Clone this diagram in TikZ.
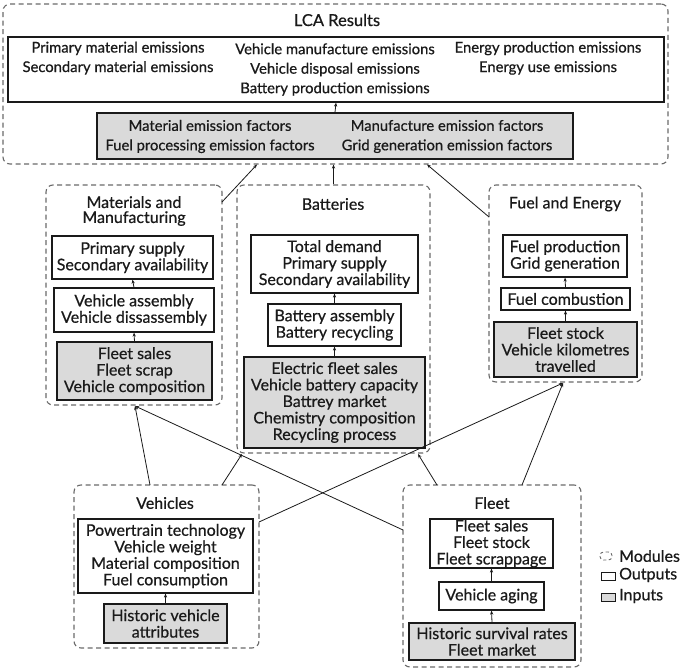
\documentclass[tikz,border=0pt]{standalone}
\usepackage{fontspec}
\setmainfont{Lato}[RawFeature={embolden=0.6}]
\usetikzlibrary{arrows.meta,calc}
\definecolor{inputgray}{HTML}{DADADA}
\definecolor{modgray}{HTML}{6A6A6A}
\definecolor{ink}{HTML}{1A1A1A}
\begin{document}
\begin{tikzpicture}[x=1pt,y=-1pt,
  every node/.style={text=ink},
  module/.style={draw=modgray,line width=1.1pt,dash pattern=on 5pt off 3.5pt,rounded corners=7pt,inner sep=0pt},
  outbox/.style={draw=ink,line width=1.2pt,fill=white,inner sep=0pt,align=center,font=\fontsize{16}{16.5}\selectfont},
  inbox/.style={outbox,fill=inputgray},
  lcatxt/.style={inner sep=0pt,align=center,font=\fontsize{14.8}{19.5}\selectfont},
  ttl/.style={inner sep=0pt,align=center,font=\fontsize{16}{15}\selectfont},
  link/.style={draw=ink,line width=0.8pt,-{Stealth[length=4pt,width=3.2pt]}},
  leg/.style={inner sep=0pt,anchor=west,font=\fontsize{16}{16}\selectfont}
]
\useasboundingbox (0,0) rectangle (685,671);

% ---------------- LCA Results ----------------
\node[module,minimum width=665pt,minimum height=160pt] (lca) at (335.5,84) {};
\node[ttl,font=\fontsize{16.5}{17}\selectfont] (lcat) at (337,20) {LCA Results};
\node[outbox,minimum width=656pt,minimum height=65pt] (lcaout) at (336,69.5) {};
\node[lcatxt] (lo1) at (118,69.5) {Primary material emissions\\Secondary material emissions\\\strut};
\node[lcatxt] (lo2) at (335,69.5) {Vehicle manufacture emissions\\Vehicle disposal emissions\\Battery production emissions};
\node[lcatxt] (lo3) at (548,69.5) {Energy production emissions\\Energy use emissions\\\strut};
\node[inbox,minimum width=476pt,minimum height=46pt] (lcain) at (335,136) {};
\node[lcatxt] (li1) at (210,136.5) {Material emission factors\\Fuel processing emission factors};
\node[lcatxt] (li2) at (447,136.5) {Manufacture emission factors\\Grid generation emission factors};
\draw[link] (lcain.north) -- (lcaout.south);

% ---------------- Materials and Manufacturing ----------------
\node[module,minimum width=176pt,minimum height=220pt] (mat) at (134,295) {};
\node[ttl] (matt) at (134,211) {Materials and\\Manufacturing};
\node[outbox,minimum width=161pt,minimum height=43pt] (mat1) at (132.5,257.5) {Primary supply\\Secondary availability};
\node[outbox,minimum width=160pt,minimum height=44pt] (mat2) at (134,310) {Vehicle assembly\\Vehicle dissassembly};
\node[inbox,minimum width=155pt,minimum height=58pt] (mat3) at (134.5,371) {Fleet sales\\Fleet scrap\\Vehicle composition};
\draw[link] (mat2.north) -- (mat1.south);
\draw[link] (mat3.north) -- (mat2.south);

% ---------------- Batteries ----------------
\node[module,minimum width=193pt,minimum height=268pt] (bat) at (333.5,319) {};
\node[ttl] (batt) at (333,204) {Batteries};
\node[outbox,minimum width=167pt,minimum height=58pt] (bat1) at (334.5,264) {Total demand\\Primary supply\\Secondary availability};
\node[outbox,minimum width=133pt,minimum height=42pt] (bat2) at (334.5,325) {Battery assembly\\Battery recycling};
\node[inbox,minimum width=181pt,minimum height=91pt] (bat3) at (334.5,402.5) {Electric fleet sales\\Vehicle battery capacity\\Battrey market\\Chemistry composition\\Recycling process};
\draw[link] (bat2.north) -- (bat1.south);
\draw[link] (bat3.north) -- (bat2.south);

% ---------------- Fuel and Energy ----------------
\node[module,minimum width=153pt,minimum height=197pt] (fue) at (565.5,283.5) {};
\node[ttl] (fuet) at (565,204) {Fuel and Energy};
\node[outbox,minimum width=124pt,minimum height=42pt] (fue1) at (565,256) {Fuel production\\Grid generation};
\node[outbox,minimum width=129pt,minimum height=22pt] (fue2) at (565.5,299) {Fuel combustion};
\node[inbox,minimum width=143pt,minimum height=55pt] (fue3) at (565.5,349.5) {Fleet stock\\Vehicle kilometres\\travelled};
\draw[link] (fue2.north) -- (fue1.south);
\draw[link] (fue3.north) -- (fue2.south);

% ---------------- Vehicles ----------------
\node[module,minimum width=185pt,minimum height=163pt] (veh) at (166.5,566.5) {};
\node[ttl] (veht) at (165,503) {Vehicles};
\node[outbox,minimum width=175pt,minimum height=74pt] (veh1) at (165.5,556) {Powertrain technology\\Vehicle weight\\Material composition\\Fuel consumption};
\node[inbox,minimum width=123pt,minimum height=39pt] (veh2) at (165.5,623.5) {Historic vehicle\\attributes};
\draw[link] (veh2.north) -- (veh1.south);

% ---------------- Fleet ----------------
\node[module,minimum width=178pt,minimum height=182pt] (fle) at (492,576) {};
\node[ttl] (flet) at (492,503) {Fleet};
\node[outbox,minimum width=123pt,minimum height=49pt] (fle1) at (491.5,543.5) {Fleet sales\\Fleet stock\\Fleet scrappage};
\node[outbox,minimum width=105pt,minimum height=28pt] (fle2) at (491.5,596) {Vehicle aging};
\node[inbox,minimum width=166pt,minimum height=37pt] (fle3) at (492,641.5) {Historic survival rates\\Fleet market};
\draw[link] (fle2.north) -- (fle1.south);
\draw[link] (fle3.north) -- (fle2.south);

% ---------------- connector end points ----------------
\coordinate (matOut) at (222,202);
\coordinate (lcaInA) at (257,164.5);
\coordinate (lcaInC) at (427,164.5);
\coordinate (fueOut) at (489,217);
\coordinate (matIn) at (135,406);
\coordinate (vehToMat) at (150,485);
\coordinate (fleToMat) at (403,530);
\coordinate (vehToBat) at (222,485);
\coordinate (batInA) at (242,454);
\coordinate (fleToBat) at (437,485);
\coordinate (batInB) at (418,454);
\coordinate (vehToFue) at (259,522);
\coordinate (fleToFue) at (522,485);
\coordinate (fueIn) at (563,383);

\draw[link] (matOut) -- (lcaInA);
\draw[link] (bat.north) -- (bat.north |- lca.south);
\draw[link] (fueOut) -- (lcaInC);
\draw[link] (vehToMat) -- (matIn);
\draw[link] (fleToMat) -- (matIn);
\draw[link] (vehToBat) -- (batInA);
\draw[link] (fleToBat) -- (batInB);
\draw[link] (vehToFue) -- (fueIn);
\draw[link] (fleToFue) -- (fueIn);

% ---------------- legend ----------------
\node[draw=modgray,line width=0.9pt,dash pattern=on 3pt off 2.5pt,rounded corners=3.5pt,minimum width=12pt,minimum height=8pt,inner sep=0pt] (legm) at (606,556) {};
\node[leg] (legmt) at (619,556) {Modules};
\node[draw=ink,line width=1pt,fill=white,minimum width=14pt,minimum height=8pt,inner sep=0pt] (lego) at (608,576) {};
\node[leg] (legot) at (619,575) {Outputs};
\node[draw=ink,line width=1pt,fill=inputgray,minimum width=14pt,minimum height=8pt,inner sep=0pt] (legi) at (608,597) {};
\node[leg] (legit) at (619,596) {Inputs};
\end{tikzpicture}
\end{document}
